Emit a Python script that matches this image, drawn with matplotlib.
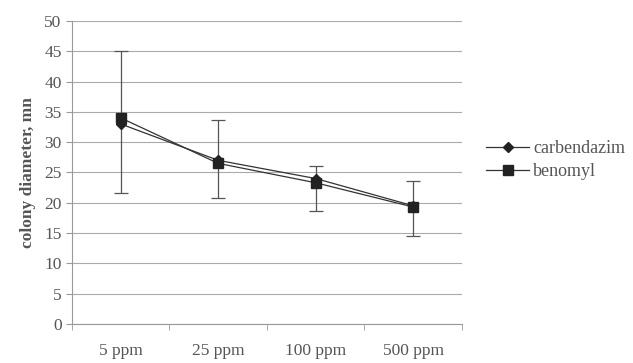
import matplotlib
matplotlib.use("Agg")
import matplotlib.pyplot as plt
import numpy as np

categories = ["5 ppm", "25 ppm", "100 ppm", "500 ppm"]
carbendazim = [33.0, 27.0, 24.0, 19.5]
benomyl = [34.0, 26.5, 23.3, 19.3]
err_top = [45.0, 33.7, 26.1, 23.6]
err_bottom = [21.6, 20.8, 18.6, 14.5]

plt.rcParams["font.family"] = ["Liberation Serif", "DejaVu Serif"]
TXT = "#555555"

fig = plt.figure(figsize=(6.33, 3.63), dpi=100)
ax = fig.add_axes([0.1137, 0.1074, 0.616, 0.835])

x = np.arange(len(categories))
bm = np.array(benomyl)
yerr = [bm - np.array(err_bottom), np.array(err_top) - bm]
ax.errorbar(x, bm, yerr=yerr, fmt="none", ecolor="#555555", elinewidth=0.9,
            capsize=5, capthick=0.9, zorder=3)
ax.plot(x, carbendazim, color="#333333", lw=0.9, marker="D", ms=5,
        mfc="#222222", mec="#222222", label="carbendazim", zorder=4)
ax.plot(x, benomyl, color="#333333", lw=0.9, marker="s", ms=7,
        mfc="#222222", mec="#222222", label="benomyl", zorder=4)

ax.set_xlim(-0.5, 3.5)
ax.set_ylim(0, 50)
ax.set_yticks(range(0, 51, 5))
ax.set_xticks(x, categories)
ax.yaxis.grid(True, color="#aaaaaa", lw=0.8)
ax.set_axisbelow(True)
for s in ["top", "right"]:
    ax.spines[s].set_visible(False)
ax.spines["left"].set_color("#999999")
ax.spines["bottom"].set_color("#999999")
ax.tick_params(axis="y", length=4, colors="#999999", labelcolor=TXT, labelsize=12.5)
ax.tick_params(axis="x", length=0, pad=14, labelcolor=TXT, labelsize=12.5)
ax.set_xticks(np.arange(-0.5, 4, 1), minor=True)
ax.tick_params(axis="x", which="minor", length=4, colors="#999999")
ax.set_ylabel("colony diameter, mn", fontsize=12.5, fontweight="bold", color=TXT,
              labelpad=6)

ax.legend(loc="center left", bbox_to_anchor=(1.02, 0.54), frameon=False,
          fontsize=13, labelcolor=TXT, handlelength=2.4, handletextpad=0.2,
          labelspacing=0.35)

fig.savefig("out.png", dpi=100)
